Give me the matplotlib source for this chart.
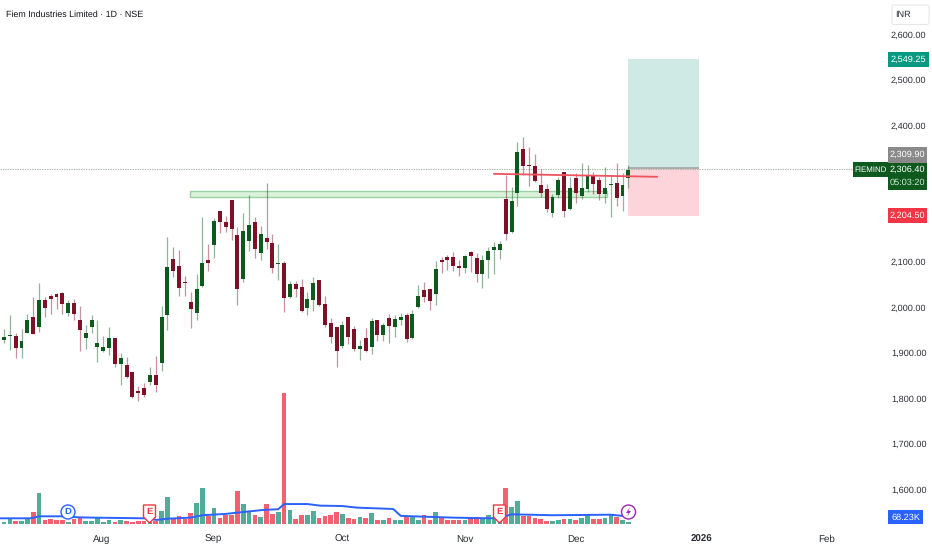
import matplotlib
matplotlib.use("Agg")
import matplotlib.pyplot as plt
from matplotlib.patches import Rectangle, Circle, Polygon, FancyBboxPatch
from matplotlib.transforms import Affine2D, ScaledTranslation

plt.rcParams["text.hinting"] = "no_hinting"

opens = [1927,1937,1937,1910,1942,1977,1957,2015,2025,2028,
2031,1987,2008,1971,1931,1955,1913,1903,1910,1931,
1874,1873,1858,1815,1821,1834,1850,1877,1982,2105,
2091,2055,2010,1987,2047,2104,2136,2212,2187,2235,
2158,2061,2146,2187,2119,2152,2141,2094,2097,2023,
2050,2045,1998,2015,2060,2007,1964,1957,1915,1978,
1952,1908,1931,1913,1971,1938,1976,1956,1972,1983,
1931,1999,2037,2039,2029,2104,2109,2111,2090,2085,
2122,2107,2072,2103,2126,2126,2237,2165,2251,2347,
2312,2311,2268,2259,2206,2247,2297,2215,2283,2244,
2259,2288,2279,2249,2268,2272,2244,2284]
closes = [1934,1939,1910,1926,1971,1941,2015,1998,2018,2022,
2007,2008,1984,1949,1942,1971,1921,1911,1931,1874,
1887,1847,1803,1811,1806,1850,1828,1978,2089,2079,
2042,2053,1996,2039,2097,2097,2190,2187,2175,2171,
2039,2167,2180,2127,2160,2143,2085,2096,2020,2050,
2039,1991,2017,2053,2005,1960,1935,1904,1960,1934,
1907,1915,1903,1970,1938,1960,1958,1974,1979,1930,
1985,2024,2021,2013,2083,2099,2103,2091,2085,2112,
2112,2072,2103,2124,2131,2138,2160,2233,2341,2311,
2310,2277,2251,2215,2242,2280,2212,2262,2250,2261,
2289,2271,2248,2262,2270,2239,2268,2302]
highs = [1951,1982,1942,1951,1984,2023,2052,2023,2028,2030,
2033,2015,2017,2002,1960,1982,1971,1936,1955,1931,
1898,1889,1858,1826,1832,1867,1892,2002,2154,2132,
2125,2069,2033,2072,2198,2138,2195,2212,2201,2235,
2176,2206,2246,2197,2178,2272,2160,2138,2102,2057,
2057,2061,2032,2065,2060,2025,1975,1957,1970,1978,
1959,1927,1954,1975,1971,1965,1985,1982,1987,1986,
1993,2048,2056,2039,2102,2111,2114,2122,2103,2114,
2123,2118,2114,2131,2142,2146,2290,2264,2362,2374,
2351,2336,2303,2270,2248,2285,2297,2285,2294,2316,
2312,2297,2286,2307,2290,2316,2294,2312]
lows = [1920,1905,1888,1888,1942,1940,1944,1979,1984,1996,
1985,1981,1971,1903,1908,1942,1879,1902,1895,1867,
1828,1843,1799,1794,1801,1828,1814,1860,1949,2067,
2025,2025,1954,1971,2043,2080,2108,2163,2166,2148,
2004,2056,2123,2107,2103,2127,2074,2059,1988,2019,
2023,1988,1982,1992,2003,1955,1920,1869,1909,1919,
1903,1883,1900,1896,1926,1926,1920,1935,1960,1922,
1930,1998,2010,1994,2004,2074,2081,2080,2069,2074,
2078,2056,2042,2063,2072,2105,2147,2162,2222,2290,
2267,2275,2241,2210,2197,2239,2199,2213,2229,2237,
2253,2248,2235,2228,2199,2222,2212,2261]
# readings above were taken against a slightly offset price scale
READ_OFFSET = 3.6
opens = [v + READ_OFFSET for v in opens]
closes = [v + READ_OFFSET for v in closes]
highs = [v + READ_OFFSET for v in highs]
lows = [v + READ_OFFSET for v in lows]
volumes_k = [20,38,25,28,38,95,238,33,40,30,
35,20,38,53,25,25,50,18,30,20,
33,25,20,28,23,15,28,100,203,40,
63,40,85,160,275,65,123,50,70,70,
250,150,95,68,58,153,78,90,983,110,
40,73,73,100,50,65,68,93,75,45,
38,55,45,83,33,33,50,33,33,53,
53,33,68,35,93,50,30,33,33,33,
45,53,40,68,58,45,270,133,175,65,
65,45,40,28,23,33,38,38,33,48,
68,38,38,48,70,58,33,15]
ma_bar = [-0.7,4.5,5.3,6,9.6,13,15.3,24,26.2,28,32,34,38,40.5,44.5,47,48,52,54.2,58,60.5,66.7,68,77,83,84.5,86,87,94,104,106,107]
ma_k = [45,45,52,60,60,52,50,45,33,42,50,68,78,90,108,113,152,152,140,137,125,115,63,50,45,45,62,75,68,72,63,63]

price_ticks = [2600,2500,2400,2100,2000,1900,1800,1700,1600]
month_bars = [16.8,35.8,58,79,98,119.6,141]
month_labels = ["Aug","Sep","Oct","Nov","Dec","2026","Feb"]
target, entry, last, stop = 2549.25, 2309.90, 2306.40, 2204.50
zone_low, zone_high = 2246.5, 2259.5

W, H = 932, 550
UP, DOWN = "#0e5a1e", "#7d1127"
VUP, VDOWN = "#52ac9a", "#f2616f"
FONT = "Liberation Sans"
GREY = "#2b2d35"
TSIZE = 6.6

fig = plt.figure(figsize=(W/100, H/100), dpi=100, facecolor="white")
px = Affine2D().scale(1/W, -1/H).translate(0, 1) + fig.transFigure

PLOT_R, BASE = 882, 526
ax = fig.add_axes([0, 1-BASE/H, PLOT_R/W, BASE/H])
XL = (-4/5.835, (PLOT_R-4)/5.835)
ax.set_xlim(*XL)
ax.set_ylim(2600-(BASE-35.9)/0.4545, 2600+35.9/0.4545)
for s in ax.spines.values():
    s.set_visible(False)
ax.yaxis.tick_right()
ax.set_yticks(price_ticks)
ax.set_yticklabels([f"{p:,.2f}" for p in price_ticks], fontsize=TSIZE, color=GREY, family=FONT)
ax.tick_params(axis="y", length=0, pad=6.5)
up_shift = ScaledTranslation(0, 1.3/100, fig.dpi_scale_trans)
for lab in ax.get_yticklabels():
    lab.set_transform(lab.get_transform() + up_shift)
ax.set_xticks(month_bars)
ax.set_xticklabels(month_labels, fontsize=7, color=GREY, family=FONT)
ax.tick_params(axis="x", length=0, pad=6)
ax.get_xticklabels()[5].set_fontweight("bold")

bars = list(range(len(opens)))
up = [c >= o for o, c in zip(opens, closes)]

# position zones
x0, x1 = 107.0, 119.1
ax.add_patch(Rectangle((x0, entry), x1-x0, target-entry, fc="#cfe9e4", ec="none", zorder=1))
ax.add_patch(Rectangle((x0, stop), x1-x0, entry-stop, fc="#fcd4d9", ec="none", zorder=1))
ax.hlines(entry, x0, x1, color="#a3a3a3", lw=1.2, zorder=1.5)
# support zone
ax.add_patch(Rectangle((31.9, zone_low), 71.5, zone_high-zone_low, fc="#d9f2d9", ec="#9fd0a2", lw=1, zorder=1.2))
# last price line
ax.hlines(last, XL[0], 146, color="#a9b7a9", lw=0.8, linestyles=(0, (1.2, 1)), zorder=1.3)

ax.vlines(bars, lows, highs, colors=[UP if u else DOWN for u in up], lw=0.9, alpha=0.45, zorder=2)
ax.bar(bars, [max(abs(c-o), 2) for o, c in zip(opens, closes)], bottom=[min(o, c) for o, c in zip(opens, closes)],
       width=0.68, color=[UP if u else DOWN for u in up], lw=0, zorder=3)
# red horizontal line
ax.plot([84, 111.9], [2296.5, 2290], color="#f0525f", lw=1.3, zorder=4)

vax = fig.add_axes([0, 1-524.3/H, PLOT_R/W, 131/H], sharex=ax)
vax.patch.set_alpha(0)
vax.axis("off")
vax.set_ylim(0, 983)
vax.bar(bars, volumes_k, width=0.8, color=[VUP if u else VDOWN for u in up], lw=0, zorder=2)
vax.plot(ma_bar, ma_k, color="#2962ff", lw=1.4, zorder=3)
ax.set_xlim(*XL)

# title
fig.text(6, 15, "Fiem Industries Limited · 1D · NSE", transform=px, fontsize=6.4, color="#111218",
         family=FONT, va="center", ha="left")

def tag(x, y, w, h, fc, s, color="white", size=TSIZE, ec="none"):
    fig.add_artist(Rectangle((x, y), w, h, transform=px, fc=fc, ec=ec, lw=0.8))
    fig.text(x+w/2, y+h/2, s, transform=px, fontsize=size, color=color, ha="center", va="center", family=FONT)

fig.add_artist(FancyBboxPatch((892, 5), 37, 19.5, boxstyle="round,pad=0,rounding_size=2", transform=px,
                              fc="white", ec="#e6e7ea", lw=0.8))
fig.text(903, 15, "INR", transform=px, fontsize=TSIZE, color=GREY, ha="center", va="center", family=FONT)
tag(888, 52.3, 41, 14.4, "#089981", f"{target:,.2f}")
tag(888, 147, 39, 16, "#8a8a8a", f"{entry:,.2f}")
tag(888, 163, 39, 27, "#0e5a1e", "")
fig.text(907.5, 169.5, f"{last:,.2f}", transform=px, fontsize=TSIZE, color="white", ha="center", va="center", family=FONT)
fig.text(907.5, 182.5, "05:03:20", transform=px, fontsize=TSIZE, color="#cfe6d2", ha="center", va="center", family=FONT)
tag(853, 162, 35, 15, "#0e5a1e", "FIEMIND", size=5.7)
tag(888, 208, 39, 15, "#f23645", f"{stop:,.2f}")
tag(888.3, 510, 35, 14.3, "#2962ff", "68.23K")

# event markers
fig.add_artist(Circle((68, 512), 7, transform=px, fc="white", ec="#2962ff", lw=1))
fig.text(68, 512, "D", transform=px, fontsize=6.8, color="#2962ff", ha="center", va="center", family=FONT, fontweight="bold")
for cx in (149.5, 499.5):
    pts = [(cx-6, 505), (cx+6, 505), (cx+6, 517), (cx, 523), (cx-6, 517)]
    fig.add_artist(Polygon(pts, closed=True, transform=px, fc="white", ec="#f23645", lw=1))
    fig.text(cx, 512, "E", transform=px, fontsize=6.8, color="#f23645", ha="center", va="center", family=FONT, fontweight="bold")
fig.add_artist(Circle((628.5, 512), 7, transform=px, fc="white", ec="#9c27b0", lw=1))
fig.add_artist(Polygon([(630, 507), (626, 513), (628.6, 513), (627, 517), (631, 511), (628.4, 511)], closed=True,
                       transform=px, fc="#9c27b0", ec="none"))

fig.savefig("out.png", dpi=100, facecolor="white")
